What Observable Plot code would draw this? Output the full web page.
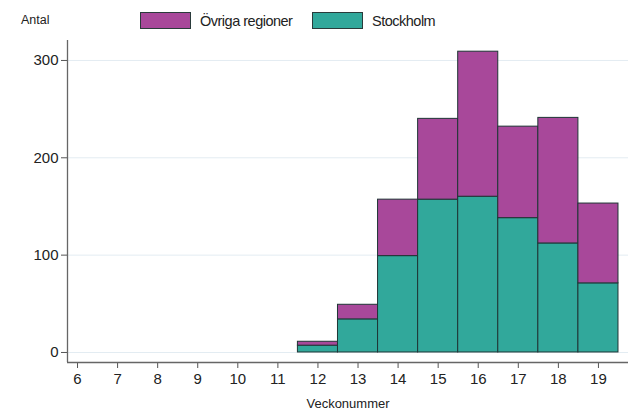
<!DOCTYPE html>
<html>
<head>
<meta charset="utf-8">
<script src="https://cdn.jsdelivr.net/npm/d3@7"></script>
<script src="https://cdn.jsdelivr.net/npm/@observablehq/plot@0.6"></script>
<style>
  html, body { margin: 0; padding: 0; background: #fff; }
  #wrap { position: relative; width: 631px; height: 414px; font-family: "Liberation Sans", Arial, sans-serif; }
  .lg { position: absolute; top: 12px; height: 17px; display: flex; align-items: center; font-size: 14.5px; letter-spacing: -0.5px; color: #222; }
  .sw { width: 49px; height: 15px; border: 1px solid #2a3b3b; margin-right: 9px; }
  #antal { position: absolute; left: 21px; top: 13px; font-size: 12.5px; color: #222; }
</style>
</head>
<body>
<div id="wrap">
  <div id="antal">Antal</div>
  <div class="lg" style="left:140px"><div class="sw" style="background:#a8489a"></div>Övriga regioner</div>
  <div class="lg" style="left:312px"><div class="sw" style="background:#31a89b"></div>Stockholm</div>
</div>
<script>
const weeks = [12, 13, 14, 15, 16, 17, 18, 19];
const stockholm = [7, 34, 99, 157, 160, 138, 112, 71];
const ovriga = [4, 15, 58, 83, 149, 94, 129, 82];
const xTicks = [6, 7, 8, 9, 10, 11, 12, 13, 14, 15, 16, 17, 18, 19];
const yTicks = [0, 100, 200, 300];
const seriesNames = ["Stockholm", "Övriga regioner"];
const seriesColors = ["#31a89b", "#a8489a"];

const rows = [];
weeks.forEach((w, i) => {
  rows.push({week: w, region: seriesNames[0], y1: 0, y2: stockholm[i]});
  rows.push({week: w, region: seriesNames[1], y1: stockholm[i], y2: stockholm[i] + ovriga[i]});
});

const chart = Plot.plot({
  width: 631,
  height: 414,
  marginLeft: 67,
  marginRight: 3,
  marginTop: 40,
  marginBottom: 52,
  style: {fontFamily: "Liberation Sans, Arial, sans-serif", fontSize: "15px", color: "#222", background: "transparent"},
  x: {domain: [5.75, 19.75]},
  y: {domain: [-10.3, 320.5]},
  color: {domain: seriesNames, range: seriesColors},
  marks: [
    Plot.gridY(yTicks, {stroke: "#e3ecf2", strokeOpacity: 1, strokeWidth: 1}),
    Plot.rect(rows, {
      x1: d => d.week - 0.5,
      x2: d => d.week + 0.5,
      y1: "y1",
      y2: "y2",
      fill: "region",
      stroke: "#1e3535",
      strokeWidth: 1
    }),
    Plot.axisY(yTicks, {tickSize: 6, tickPadding: 3, label: null, stroke: "#555", fontSize: 15}),
    Plot.axisX(xTicks, {tickSize: 6, tickPadding: 5, label: null, stroke: "#555", fontSize: 15}),
    Plot.ruleX([5.75], {stroke: "#666", strokeWidth: 1.3}),
    Plot.ruleY([-10.3], {stroke: "#666", strokeWidth: 1.3}),
    Plot.text(["Veckonummer"], {frameAnchor: "bottom", dy: 45, fontSize: 13, fill: "#222"})
  ]
});
chart.style.position = "absolute";
chart.style.left = "0";
chart.style.top = "0";
document.getElementById("wrap").appendChild(chart);
</script>
</body>
</html>
